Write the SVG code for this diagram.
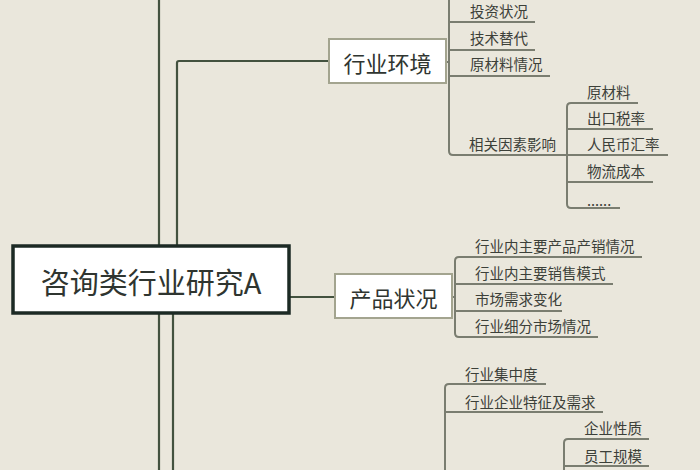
<svg xmlns="http://www.w3.org/2000/svg" width="700" height="470" viewBox="0 0 700 470">
<style>
.bg{fill:#EAE7DC}
.main{fill:none;stroke:#43523f;stroke-width:2.2}
.sub{fill:none;stroke:#7a7d70;stroke-width:2}
.root{fill:#ffffff;stroke:#1c2a24;stroke-width:3.5}
.box{fill:#ffffff;stroke:#a3a48f;stroke-width:2}
text{font-family:"Noto Sans CJK SC","Noto Sans CJK JP",sans-serif;fill:#2f3530;dominant-baseline:central}
.t1{font-size:29px}
.t2{font-size:22px}
.t3{font-size:14.5px;fill:#3c4039}
</style>
<rect class="bg" x="0" y="0" width="700" height="470"/>
<g id="connectors">
  <path class="main" d="M159,0 V470"/>
  <path class="main" d="M177,246 V63 Q177,61 179,61 H329"/>
  <path class="main" d="M173,313 V470"/>
  <path class="main" d="M289,297 H335"/>
  <path class="sub" d="M446,62 H449"/>
  <path class="sub" d="M449,0 V151 Q449,155 453,155 H567"/>
  <path class="sub" d="M449,22 H535"/>
  <path class="sub" d="M449,50 H535"/>
  <path class="sub" d="M449,76 H550"/>
  <path class="sub" d="M638,103 H571 Q567,103 567,107 V204 Q567,208 571,208 H620"/>
  <path class="sub" d="M567,129 H653"/>
  <path class="sub" d="M567,155 H668"/>
  <path class="sub" d="M567,182 H653"/>
  <path class="sub" d="M452,297 H455"/>
  <path class="sub" d="M642,257 H459 Q455,257 455,261 V333 Q455,337 459,337 H598"/>
  <path class="sub" d="M455,284 H613"/>
  <path class="sub" d="M455,311 H562"/>
  <path class="sub" d="M546,384 H449 Q445,384 445,388 V470"/>
  <path class="sub" d="M445,412 H603"/>
  <path class="sub" d="M649,439 H568 Q564,439 564,443 V470"/>
  <path class="sub" d="M564,466 H649"/>
</g>
<g id="root">
  <rect class="root" x="13" y="246" width="276" height="67"/>
  <text class="t1" x="151" y="281" text-anchor="middle">咨询类行业研究A</text>
</g>
<g id="hangye-huanjing">
  <rect class="box" x="329" y="39" width="117" height="44"/>
  <text class="t2" x="387.5" y="61.5" text-anchor="middle">行业环境</text>
</g>
<g id="chanpin-zhuangkuang">
  <rect class="box" x="335" y="274" width="117" height="44"/>
  <text class="t2" x="393.5" y="296.5" text-anchor="middle">产品状况</text>
</g>
<g id="n-touzi"><text class="t3" x="470" y="10">投资状况</text></g>
<g id="n-jishu"><text class="t3" x="470" y="37">技术替代</text></g>
<g id="n-yuancailiao-qk"><text class="t3" x="470" y="63">原材料情况</text></g>
<g id="n-xiangguan"><text class="t3" x="469" y="143">相关因素影响</text></g>
<g id="n-yuancailiao"><text class="t3" x="587" y="91">原材料</text></g>
<g id="n-chukou"><text class="t3" x="587" y="117">出口税率</text></g>
<g id="n-rmb"><text class="t3" x="587" y="143">人民币汇率</text></g>
<g id="n-wuliu"><text class="t3" x="587" y="170">物流成本</text></g>
<g id="n-dots"><text class="t3" x="587" y="199">......</text></g>
<g id="n-p1"><text class="t3" x="475" y="245">行业内主要产品产销情况</text></g>
<g id="n-p2"><text class="t3" x="475" y="272">行业内主要销售模式</text></g>
<g id="n-p3"><text class="t3" x="475" y="298">市场需求变化</text></g>
<g id="n-p4"><text class="t3" x="475" y="325">行业细分市场情况</text></g>
<g id="n-jizhong"><text class="t3" x="465" y="373">行业集中度</text></g>
<g id="n-tezheng"><text class="t3" x="465" y="401">行业企业特征及需求</text></g>
<g id="n-xingzhi"><text class="t3" x="584" y="427">企业性质</text></g>
<g id="n-guimo"><text class="t3" x="584" y="455">员工规模</text></g>
</svg>
